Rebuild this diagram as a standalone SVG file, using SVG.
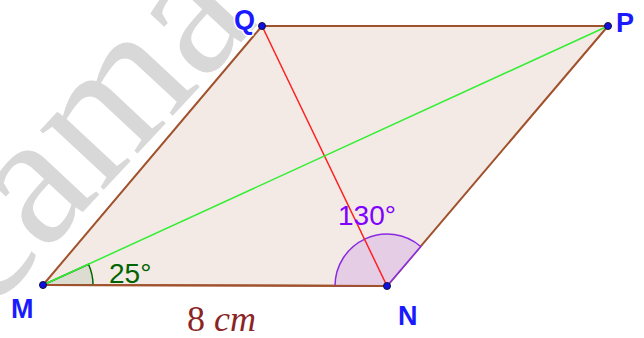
<svg xmlns="http://www.w3.org/2000/svg" width="644" height="338" viewBox="0 0 644 338">
<style>
.wm{font-family:"Liberation Serif",serif;font-size:190px;fill:#d8d8d8}
.pt{fill:#1010e0;stroke:#101040;stroke-width:1}
.lbl{font-family:"Liberation Sans",Arial,sans-serif;font-size:27px;font-weight:bold;fill:#1a1aff;stroke:#ffffff;stroke-width:3;paint-order:stroke;stroke-linejoin:round}
.ang{font-family:"Liberation Sans",Arial,sans-serif;font-size:28px}
</style>
<rect width="644" height="338" fill="#ffffff"/>
<g id="watermark">
<text class="wm" transform="translate(-14,316) rotate(-47)">cama</text>
</g>
<g id="parallelogram">
<polygon points="43,285 387,286 608,26 262,26" fill="#f3eae5" stroke="#a0522d" stroke-width="2" stroke-linejoin="round"/>
</g>
<g id="angles">
<path id="angleM" d="M43,285 L93,285 A50,50 0 0 0 88.5,264.2 Z" fill="#dcdcd0" stroke="#006400" stroke-width="1.5"/>
<path id="angleN" d="M387,286 L335,286 A52,52 0 0 1 420.7,246.5 Z" fill="#e6cde6" stroke="#8a2be2" stroke-width="1.5"/>
</g>
<g id="connectors">
<line id="QN" x1="262" y1="26" x2="387" y2="286" stroke="#ff2020" stroke-width="1.5"/>
<line id="MP" x1="43" y1="285" x2="608" y2="26" stroke="#33ee33" stroke-width="1.5"/>
<line x1="43" y1="285" x2="387" y2="286" stroke="#a0522d" stroke-width="2"/>
</g>
<g id="M"><circle class="pt" cx="43" cy="285" r="3.5"/><text class="lbl" x="11" y="318">M</text></g>
<g id="N"><circle class="pt" cx="387" cy="286" r="3.5"/><text class="lbl" x="398" y="325">N</text></g>
<g id="Q"><circle class="pt" cx="262" cy="26" r="3.5"/><text class="lbl" x="234" y="29">Q</text></g>
<g id="P"><circle class="pt" cx="608" cy="26" r="3.5"/><text class="lbl" x="616" y="32">P</text></g>
<g id="labels">
<text class="ang" x="109" y="283" fill="#006400">25°</text>
<text class="ang" x="338" y="225" fill="#8000ff">130°</text>
<text x="187" y="331" font-family="'Liberation Serif',serif" font-size="36" fill="#8b2525"><tspan>8 </tspan><tspan font-style="italic">cm</tspan></text>
</g>
</svg>
